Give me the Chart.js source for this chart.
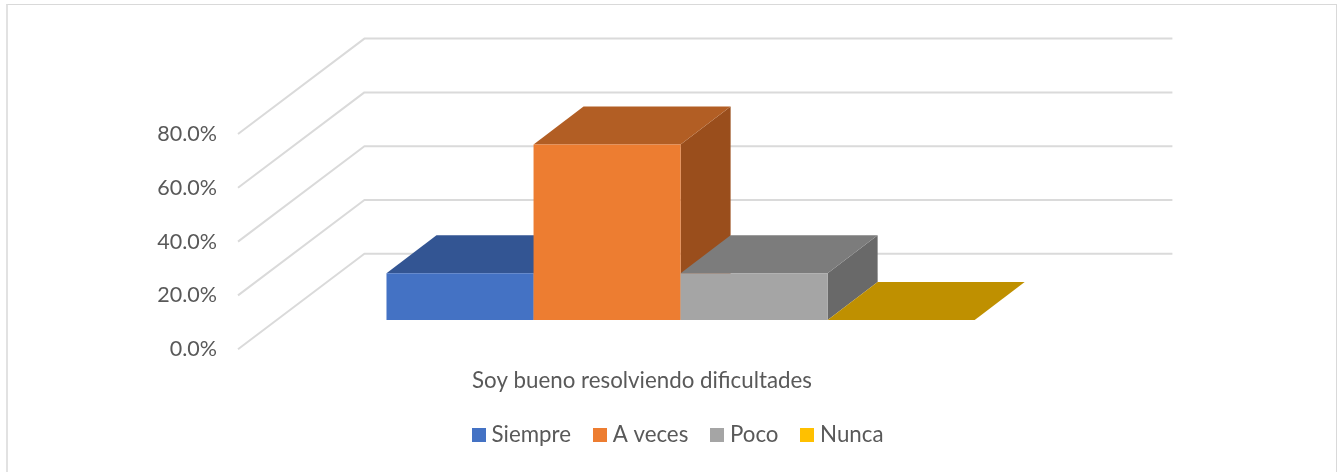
<!DOCTYPE html>
<html>
<head>
<meta charset="utf-8">
<script src="https://cdn.jsdelivr.net/npm/chart.js@4"></script>
<style>
html,body{margin:0;padding:0;background:#fff;overflow:hidden;}
#wrap{position:absolute;left:0;top:0;width:1338px;height:472px;}
#frame{position:absolute;left:6px;top:4px;width:1331px;height:470px;border:1px solid #D9D9D9;border-left:2px solid #E2E2E2;box-sizing:border-box;}
</style>
</head>
<body>
<div id="wrap"><canvas id="c" width="1338" height="472"></canvas><div id="frame"></div></div>
<script>
const categories = ["Soy bueno resolviendo dificultades"];
const seriesNames = ["Siempre", "A veces", "Poco", "Nunca"];
const siempre = [17.4];
const aVeces = [65.2];
const poco = [17.4];
const nunca = [0];
const frontColors = ["#4472C4", "#ED7D31", "#A5A5A5", "#FFC000"];
const topColors = ["#335593", "#B25E24", "#7C7C7C", "#BF9000"];
const sideColors = ["#2A4779", "#9A4E1C", "#696969", "#9C7600"];
const yTicks = [0, 20, 40, 60, 80];

// projection of the floor depth, in pixels
const wallDX = 126.4, wallDY = -95.4;
const barShiftX = 38.6, barShiftY = -29.2;
const barDX = 50, barDY = -38;
const swatchSize = 14;

function poly(ctx, pts, color) {
  ctx.fillStyle = color;
  ctx.beginPath();
  pts.forEach((p, i) => i ? ctx.lineTo(p[0], p[1]) : ctx.moveTo(p[0], p[1]));
  ctx.closePath();
  ctx.fill();
}

const swatches = frontColors.map(color => {
  const s = document.createElement('canvas');
  s.width = swatchSize;
  s.height = swatchSize;
  const g = s.getContext('2d');
  g.fillStyle = color;
  g.fillRect(0, 0, swatchSize, swatchSize);
  return s;
});

const walls3d = {
  id: 'walls3d',
  beforeDatasetsDraw(chart) {
    const ctx = chart.ctx, y = chart.scales.y, a = chart.chartArea;
    ctx.save();
    ctx.lineWidth = 2;
    ctx.strokeStyle = '#DADADA';
    ctx.lineJoin = 'round';
    yTicks.forEach(t => {
      const py = y.getPixelForValue(t);
      ctx.beginPath();
      ctx.moveTo(a.left, py);
      ctx.lineTo(a.left + wallDX, py + wallDY);
      ctx.lineTo(a.right + wallDX, py + wallDY);
      ctx.stroke();
    });
    ctx.restore();

    // painter's order, left to right: the view is from the upper right
    ctx.save();
    ctx.translate(barShiftX, barShiftY);
    chart.data.datasets.forEach((d, i) => {
      const meta = chart.getDatasetMeta(i);
      const p = meta.data[0].getProps(['x', 'y', 'base', 'width'], false);
      const l = p.x - p.width / 2, r = p.x + p.width / 2;
      if (p.base - p.y > 0.5) {
        poly(ctx, [[r, p.y], [r + barDX, p.y + barDY], [r + barDX, p.base + barDY], [r, p.base]], sideColors[i]);
      }
      poly(ctx, [[l, p.y], [r, p.y], [r + barDX, p.y + barDY], [l + barDX, p.y + barDY]], topColors[i]);
      meta.controller.draw();
    });
    ctx.restore();
  },
  beforeDatasetDraw() { return false; }
};

const datasetValues = [siempre, aVeces, poco, nunca];

new Chart(document.getElementById('c'), {
  type: 'bar',
  data: {
    labels: categories,
    datasets: seriesNames.map((name, i) => ({
      label: name,
      data: datasetValues[i],
      backgroundColor: frontColors[i],
      borderWidth: 0,
      barPercentage: 1,
      categoryPercentage: 0.728
    }))
  },
  plugins: [walls3d],
  options: {
    responsive: false,
    animation: false,
    layout: { padding: { top: 134, bottom: 16, left: 23, right: 0 } },
    scales: {
      x: {
        grid: { display: false, drawTicks: false },
        border: { display: false },
        ticks: { color: '#595959', font: { family: 'Lato', size: 22.3 }, padding: 18 },
        afterFit(s) { s.height = 47; }
      },
      y: {
        min: 0,
        max: 80,
        grid: { display: false, drawTicks: false },
        border: { display: false },
        afterBuildTicks(s) { s.ticks = yTicks.map(v => ({ value: v })); },
        ticks: {
          color: '#595959',
          font: { family: 'Lato', size: 21.5 },
          padding: 21,
          callback: v => v.toFixed(1) + '%'
        },
        afterFit(s) { s.width = 215; }
      },
      yRight: {
        position: 'right',
        display: true,
        grid: { display: false, drawTicks: false },
        border: { display: false },
        ticks: { display: false },
        afterFit(s) { s.width = 292; }
      }
    },
    plugins: {
      tooltip: { enabled: false },
      title: { display: false },
      legend: {
        position: 'bottom',
        labels: {
          color: '#595959',
          font: { family: 'Lato', size: 22.3 },
          usePointStyle: true,
          boxWidth: 3,
          padding: 27.5,
          generateLabels(chart) {
            return Chart.defaults.plugins.legend.labels.generateLabels(chart)
              .map((item, i) => Object.assign(item, { pointStyle: swatches[i] }));
          }
        }
      }
    }
  }
});
</script>
</body>
</html>
